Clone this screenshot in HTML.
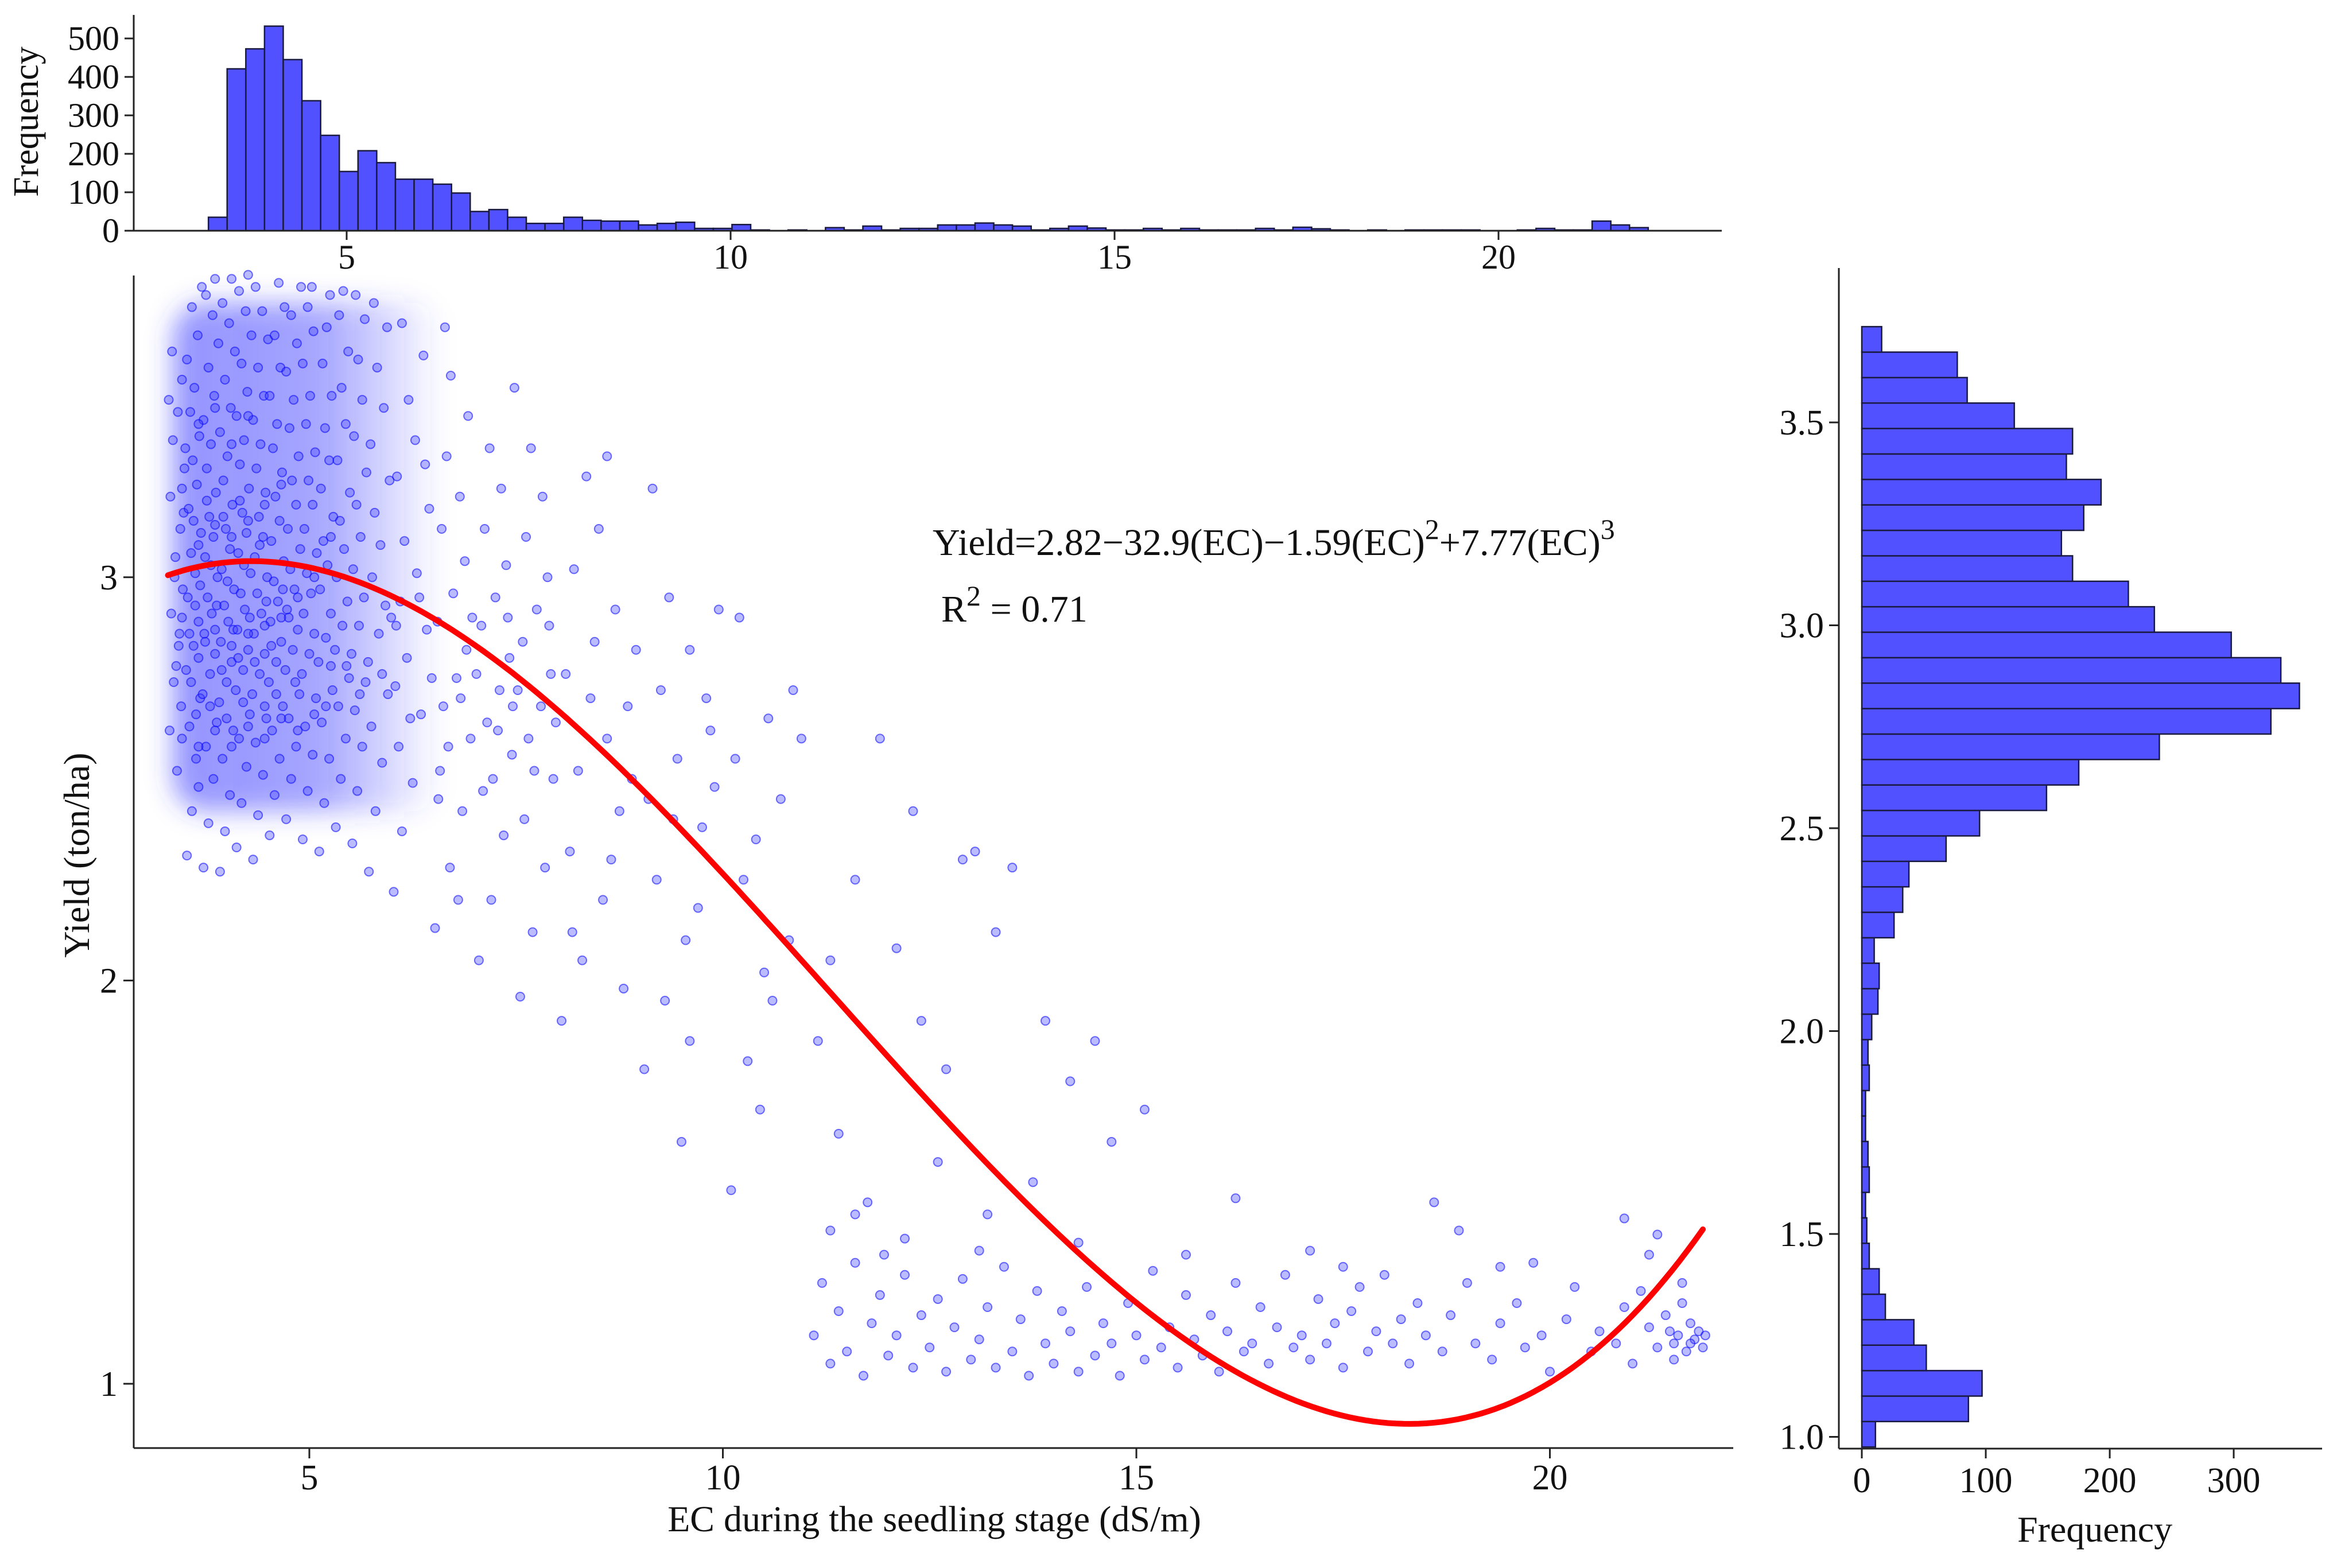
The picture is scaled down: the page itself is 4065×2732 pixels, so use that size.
<!DOCTYPE html>
<html><head><meta charset="utf-8"><style>
html,body{margin:0;padding:0;background:#fff;}
svg text{font-family:"Liberation Serif",serif;fill:#111;}
</style></head><body>
<svg id="chart" width="4065" height="2727" viewBox="0 0 4065 2727" xmlns="http://www.w3.org/2000/svg">
<defs>
<filter id="blur" x="-30%" y="-30%" width="160%" height="160%"><feGaussianBlur stdDeviation="22"/></filter>
<linearGradient id="dens" x1="0" y1="0" x2="1" y2="0">
<stop offset="0" stop-color="#3a3aff" stop-opacity="0.55"/>
<stop offset="0.55" stop-color="#3a3aff" stop-opacity="0.45"/>
<stop offset="1" stop-color="#3a3aff" stop-opacity="0"/>
</linearGradient>
</defs>
<g id="topHist"></g>
<g id="main"></g>
<g id="rightHist"></g>
<text x="1625" y="967" font-size="66">Yield=2.82−32.9(EC)−1.59(EC)<tspan dy="-28" font-size="50">2</tspan><tspan dy="28">+7.77(EC)</tspan><tspan dy="-28" font-size="50">3</tspan></text>
<text x="1640" y="1083" font-size="66">R<tspan dy="-28" font-size="50">2</tspan><tspan dy="28"> = 0.71</tspan></text>
</svg>
<script>
// ---- top histogram data (EC) ----
const topBinStart = 3.2;
const topBinWidth = 0.2435;
const topCounts = [35,421,473,532,445,338,248,154,208,177,134,134,121,98,50,55,35,19,19,35,27,25,25,15,19,22,6,6,16,2,
0,2,0,8,2,12,2,6,6,15,15,20,15,12,2,6,12,7,2,2,6,2,6,2,2,2,6,2,9,5,2,0,2,0,2,2,2,2,0,0,2,6,2,2,25,15,8];
const topXTicks = [5,10,15,20];
const topYTicks = [0,100,200,300,400,500];
// ---- right histogram data (Yield) ----
const rightBinStart = 0.975;
const rightBinWidth = 0.06275;
const rightCounts = [11,86,97,52,42,19,14,6,4,3,6,5,3,3,6,5,8,13,14,10,26,33,38,68,95,149,175,240,330,353,338,298,236,215,170,161,179,193,165,170,123,85,77,16];
const rightXTicks = [0,100,200,300];
const rightYTicks = [1.0,1.5,2.0,2.5,3.0,3.5];
// ---- main scatter ----
const mainXTicks = [5,10,15,20];
const mainYTicks = [1,2,3];
const curveRange = [3.29, 21.85];
const curveCoef = [2.3104, 0.36818, -0.05287, 0.0015596];
const scatterPts = [
[3.31,2.62],[3.36,2.74],[3.42,2.83],[3.33,2.91],[3.47,2.97],[3.38,3.05],[3.44,3.12],[3.32,3.2],[3.49,3.27],[3.35,3.34],[3.41,3.41],[3.46,3.49],[3.34,3.56],[3.4,2.52],[3.45,2.68],[3.37,3.0],[3.48,3.16],[3.43,2.86],[3.3,3.44],[3.39,2.78],
[3.52,2.31],[3.58,2.42],[3.63,2.55],[3.55,2.63],[3.68,2.7],[3.51,2.77],[3.6,2.83],[3.66,2.89],[3.53,2.95],[3.62,3.01],[3.57,3.06],[3.69,3.11],[3.54,3.17],[3.64,3.23],[3.59,3.29],[3.67,3.35],[3.56,3.41],[3.61,3.47],[3.52,3.54],[3.65,3.6],[3.58,3.67],[3.7,3.72],[3.63,2.66],[3.55,2.86],[3.68,2.98],[3.6,3.14],[3.5,3.32],[3.66,2.48],[3.57,2.74],[3.62,2.93],
[3.72,2.28],[3.78,2.39],[3.84,2.5],[3.75,2.58],[3.88,2.64],[3.71,2.71],[3.8,2.76],[3.86,2.81],[3.73,2.86],[3.82,2.91],[3.77,2.95],[3.89,3.0],[3.74,3.05],[3.84,3.1],[3.79,3.15],[3.87,3.21],[3.76,3.27],[3.81,3.33],[3.72,3.39],[3.85,3.45],[3.78,3.52],[3.9,3.58],[3.83,3.65],[3.75,3.7],[3.86,3.74],[3.8,2.68],[3.74,2.84],[3.88,2.93],[3.81,3.03],[3.76,3.19],
[3.92,2.27],[3.98,2.37],[4.04,2.46],[3.95,2.55],[4.08,2.62],[3.91,2.69],[4.0,2.74],[4.06,2.79],[3.93,2.84],[4.02,2.89],[3.97,2.93],[4.09,2.97],[3.94,3.02],[4.04,3.07],[3.99,3.12],[4.07,3.18],[3.96,3.24],[4.01,3.3],[3.92,3.36],[4.05,3.42],[3.98,3.49],[4.1,3.56],[4.03,3.63],[3.95,3.68],[4.06,3.74],[4.0,2.65],[3.94,2.77],[4.08,2.87],[4.01,2.99],[3.96,3.15],
[4.12,2.33],[4.18,2.44],[4.24,2.53],[4.15,2.6],[4.28,2.66],[4.11,2.72],[4.2,2.77],[4.26,2.82],[4.13,2.87],[4.22,2.92],[4.17,2.96],[4.29,3.01],[4.14,3.06],[4.24,3.11],[4.19,3.16],[4.27,3.22],[4.16,3.28],[4.21,3.34],[4.12,3.4],[4.25,3.46],[4.18,3.53],[4.3,3.6],[4.23,3.66],[4.15,3.71],[4.26,3.75],[4.2,2.69],[4.14,2.8],[4.28,2.9],[4.21,3.03],[4.16,3.19],
[4.32,2.3],[4.38,2.41],[4.44,2.51],[4.35,2.59],[4.48,2.65],[4.31,2.71],[4.4,2.76],[4.46,2.81],[4.33,2.86],[4.42,2.91],[4.37,2.96],[4.49,3.0],[4.34,3.05],[4.44,3.1],[4.39,3.15],[4.47,3.21],[4.36,3.27],[4.41,3.33],[4.32,3.39],[4.45,3.45],[4.38,3.52],[4.5,3.59],[4.43,3.66],[4.35,3.72],[4.46,2.68],[4.34,2.79],[4.48,2.94],[4.4,3.08],
[4.52,2.36],[4.58,2.46],[4.64,2.55],[4.55,2.62],[4.68,2.68],[4.51,2.74],[4.6,2.79],[4.66,2.84],[4.53,2.89],[4.62,2.94],[4.57,2.99],[4.69,3.04],[4.54,3.09],[4.64,3.14],[4.59,3.2],[4.67,3.26],[4.56,3.32],[4.61,3.38],[4.52,3.45],[4.65,3.52],[4.58,3.6],[4.7,3.67],[4.63,3.73],[4.6,2.71],[4.54,2.83],[4.68,2.97],
[4.72,2.4],[4.78,2.5],[4.84,2.58],[4.75,2.65],[4.88,2.71],[4.71,2.77],[4.8,2.82],[4.86,2.87],[4.73,2.92],[4.82,2.97],[4.77,3.02],[4.89,3.07],[4.74,3.12],[4.84,3.18],[4.79,3.24],[4.87,3.3],[4.76,3.37],[4.81,3.44],[4.72,3.51],[4.85,3.58],[4.78,3.65],[4.9,3.72],[4.83,2.74],[4.75,2.9],
[4.92,2.35],[4.98,2.47],[5.04,2.56],[4.95,2.63],[5.08,2.7],[4.91,2.76],[5.0,2.81],[5.06,2.86],[4.93,2.91],[5.02,2.96],[4.97,3.01],[5.09,3.06],[4.94,3.12],[5.04,3.18],[4.99,3.24],[5.07,3.31],[4.96,3.38],[5.01,3.45],[4.92,3.53],[5.05,3.61],[4.98,3.67],[5.03,3.72],
[5.12,2.32],[5.18,2.44],[5.24,2.55],[5.15,2.64],[5.28,2.72],[5.11,2.79],[5.2,2.85],[5.26,2.91],[5.13,2.97],[5.22,3.03],[5.17,3.09],[5.29,3.15],[5.14,3.22],[5.24,3.29],[5.19,3.37],[5.27,3.45],[5.16,3.53],[5.21,3.62],[5.25,3.7],[5.2,2.68],
[5.32,2.38],[5.38,2.5],[5.44,2.6],[5.35,2.68],[5.48,2.75],[5.31,2.82],[5.4,2.88],[5.46,2.94],[5.33,3.0],[5.42,3.07],[5.37,3.14],[5.49,3.21],[5.34,3.29],[5.44,3.38],[5.39,3.47],[5.47,3.56],[5.36,3.65],[5.41,3.71],[5.45,2.78],
[5.52,2.34],[5.58,2.47],[5.64,2.58],[5.55,2.67],[5.68,2.74],[5.51,2.81],[5.6,2.88],[5.66,2.95],[5.53,3.02],[5.62,3.1],[5.57,3.18],[5.69,3.26],[5.54,3.35],[5.64,3.44],[5.59,3.54],[5.67,3.64],[5.56,3.7],[5.61,2.71],
[5.72,2.27],[5.8,2.42],[5.88,2.54],[5.75,2.63],[5.95,2.71],[5.71,2.79],[5.84,2.86],[5.92,2.93],[5.76,3.0],[5.86,3.08],[5.79,3.16],[5.97,3.24],[5.74,3.33],[5.9,3.42],[5.82,3.52],[5.94,3.62],[5.78,3.68],[5.88,2.76],[5.99,2.9],
[6.02,2.22],[6.12,2.37],[6.25,2.49],[6.08,2.58],[6.35,2.66],[6.04,2.73],[6.18,2.8],[6.42,2.87],[6.1,2.94],[6.3,3.01],[6.15,3.09],[6.45,3.17],[6.06,3.25],[6.28,3.34],[6.2,3.44],[6.38,3.55],[6.12,3.63],[6.48,2.75],[6.22,2.65],[6.33,2.95],[6.05,2.88],[6.4,3.28],
[6.52,2.13],[6.7,2.28],[6.85,2.42],[6.58,2.52],[6.95,2.6],[6.62,2.68],[6.78,2.75],[6.9,2.82],[6.55,2.89],[6.74,2.96],[6.88,3.04],[6.6,3.12],[6.82,3.2],[6.66,3.3],[6.92,3.4],[6.71,3.5],[6.56,2.45],[6.97,2.9],[6.68,2.58],[6.83,2.7],[6.64,3.62],[6.8,2.2],
[7.05,2.05],[7.2,2.2],[7.35,2.36],[7.1,2.47],[7.45,2.56],[7.15,2.64],[7.3,2.72],[7.42,2.8],[7.08,2.88],[7.25,2.95],[7.38,3.03],[7.12,3.12],[7.32,3.22],[7.18,3.32],[7.48,3.47],[7.28,2.62],[7.4,2.9],[7.22,2.5],[7.02,2.76],[7.46,2.68],
[7.55,1.96],[7.7,2.12],[7.85,2.28],[7.6,2.4],[7.95,2.5],[7.65,2.6],[7.8,2.68],[7.92,2.76],[7.58,2.84],[7.75,2.92],[7.88,3.0],[7.62,3.1],[7.82,3.2],[7.68,3.32],[7.98,2.64],[7.72,2.52],[7.52,2.72],[7.9,2.88],
[8.05,1.9],[8.3,2.05],[8.55,2.2],[8.15,2.32],[8.75,2.42],[8.25,2.52],[8.6,2.6],[8.85,2.68],[8.1,2.76],[8.45,2.84],[8.7,2.92],[8.2,3.02],[8.5,3.12],[8.35,3.25],[8.9,2.5],[8.65,2.3],[8.4,2.7],[8.95,2.82],[8.18,2.12],[8.8,1.98],[8.6,3.3],
[9.05,1.78],[9.3,1.95],[9.55,2.1],[9.2,2.25],[9.75,2.38],[9.1,2.45],[9.45,2.55],[9.85,2.62],[9.25,2.72],[9.6,2.82],[9.35,2.95],[9.9,2.48],[9.7,2.18],[9.15,3.22],[9.5,1.6],[9.8,2.7],[9.4,2.4],[9.95,2.92],[9.6,1.85],
[10.1,1.48],[10.3,1.8],[10.5,2.02],[10.25,2.25],[10.7,2.45],[10.15,2.55],[10.55,2.65],[10.85,2.72],[10.4,2.35],[10.95,2.6],[10.6,1.95],[10.2,2.9],[10.8,2.1],[10.45,1.68],
[11.15,1.85],[11.3,2.05],[11.6,2.25],[11.9,2.6],[11.4,1.62],[12.1,2.08],[12.3,2.42],[11.75,1.45],[12.6,1.55],[12.9,2.3],[13.05,2.32],[12.4,1.9],[11.95,1.32],[13.3,2.12],[12.7,1.78],[13.5,2.28],[13.9,1.9],[14.2,1.75],[14.5,1.85],[15.1,1.68],[14.7,1.6],[13.75,1.5],[13.2,1.42],[16.2,1.46],[18.6,1.45],[18.9,1.38],[20.9,1.41],[21.3,1.37],[17.1,1.33],[19.4,1.29],
[11.1,1.12],[11.2,1.25],[11.3,1.05],[11.4,1.18],[11.5,1.08],[11.6,1.3],[11.7,1.02],[11.8,1.15],[11.9,1.22],[12.0,1.07],[12.1,1.12],[12.2,1.27],[12.3,1.04],[12.4,1.17],[12.5,1.09],[12.6,1.21],[12.7,1.03],[12.8,1.14],[12.9,1.26],[13.0,1.06],[13.1,1.11],[13.2,1.19],[13.3,1.04],[13.4,1.29],[13.5,1.08],[13.6,1.16],[13.7,1.02],[13.8,1.23],[13.9,1.1],[14.0,1.05],[14.1,1.18],[14.2,1.13],[14.3,1.03],[14.4,1.24],[14.5,1.07],[14.6,1.15],[14.7,1.1],[14.8,1.02],[14.9,1.2],[15.0,1.12],[15.1,1.06],[15.2,1.28],[15.3,1.09],[15.4,1.14],[15.5,1.04],[15.6,1.22],[15.7,1.11],[15.8,1.07],[15.9,1.17],[16.0,1.03],[16.1,1.13],[16.2,1.25],[16.3,1.08],[16.4,1.1],[16.5,1.19],[16.6,1.05],[16.7,1.14],[16.8,1.27],[16.9,1.09],[17.0,1.12],[17.1,1.06],[17.2,1.21],[17.3,1.1],[17.4,1.15],[17.5,1.04],[17.6,1.18],[17.7,1.24],[17.8,1.08],[17.9,1.13],[18.0,1.27],[18.1,1.1],[18.2,1.16],[18.3,1.05],[18.4,1.2],[18.5,1.12],[18.7,1.08],[18.8,1.17],[19.0,1.25],[19.1,1.1],[19.3,1.06],[19.4,1.15],[19.6,1.2],[19.7,1.09],[19.9,1.12],[20.0,1.03],[20.2,1.16],[20.3,1.24],[20.5,1.08],[20.6,1.13],[20.8,1.1],[20.9,1.19],[21.0,1.05],[21.1,1.23],[21.2,1.14],[21.3,1.09],[21.4,1.17],[21.5,1.1],[21.55,1.12],[21.6,1.2],[21.65,1.08],[21.7,1.15],[21.75,1.11],[21.8,1.13],[21.85,1.09],[21.88,1.12],[21.5,1.06],[21.6,1.25],[21.7,1.1],[21.45,1.13],[11.3,1.38],[11.6,1.42],[12.2,1.36],[13.1,1.33],[14.3,1.35],[15.6,1.32],[17.5,1.29],[19.8,1.3],[21.2,1.32],
[3.46,2.6],[3.46,2.9],[3.46,3.22],[3.66,2.58],[3.66,2.8],[3.66,3.08],[3.66,3.38],[3.86,2.62],[3.86,2.87],[3.86,3.13],[3.86,3.42],[4.06,2.58],[4.06,2.83],[4.06,3.1],[4.06,3.33],[4.26,2.63],[4.26,2.86],[4.26,3.14],[4.26,3.4],[4.46,2.6],[4.46,2.88],[4.46,3.18],[4.66,2.65],[4.66,2.9],[4.66,3.23],[4.86,2.62],[4.86,2.95],[5.06,2.66],[5.06,3.0],[5.26,2.78],[5.26,3.1]
];
const NS='http://www.w3.org/2000/svg';
function mk(tag, parent, attrs){const e=document.createElementNS(NS,tag);for(const k in attrs)e.setAttribute(k,attrs[k]);parent.appendChild(e);return e;}
function txt(parent,x,y,s,size,anchor){const t=mk('text',parent,{x:x,y:y,'font-size':size,'text-anchor':anchor||'middle'});t.textContent=s;return t;}

// ===== Top histogram =====
const tx = v => 604 + (v-5)*133.8;
const ty = c => 402 - c*0.67;
const topG=document.getElementById('topHist');
topCounts.forEach((c,i)=>{
  const x0=tx(topBinStart+i*topBinWidth), x1=tx(topBinStart+(i+1)*topBinWidth);
  const r=mk('rect',topG,{x:x0,y:ty(c),width:x1-x0,height:402-ty(c),fill:'#5151ff',stroke:'#1a1a40','stroke-width':2.5});
  
  
});
let l=mk('line',topG,{x1:233,y1:402,x2:3000,y2:402,stroke:'#222','stroke-width':3});


l=mk('line',topG,{x1:233,y1:26,x2:233,y2:402,stroke:'#222','stroke-width':3});


topXTicks.forEach(v=>{mk('line',topG,{x1:tx(v),y1:402,x2:tx(v),y2:418,stroke:'#222','stroke-width':3});
  const t=txt(topG,tx(v),468,String(v),60);
  
  });
topYTicks.forEach(v=>{mk('line',topG,{x1:217,y1:ty(v),x2:233,y2:ty(v),stroke:'#222','stroke-width':3});
  const t=txt(topG,208,ty(v)+20,String(v),60,'end');
  
  });
let tt=txt(topG,0,0,'Frequency',62);
tt.setAttribute('transform','translate(66,212) rotate(-90)');



// ===== Main scatter =====
const mx = v => 539 + (v-5)*144.1;
const my = v => 2411 - (v-1)*702.6;
const mainG=document.getElementById('main');
let u=mk('rect',mainG,{x:mx(3.35),y:my(3.68),width:mx(6.6)-mx(3.35),height:my(2.42)-my(3.68),rx:60,fill:'url(#dens)',filter:'url(#blur)'});


scatterPts.forEach(p=>{
  const c=mk('circle',mainG,{cx:mx(p[0]),cy:my(p[1]),r:7.5,fill:'rgba(60,60,255,0.35)',stroke:'rgba(0,0,255,0.55)','stroke-width':2});
  
  
});
const poly = x => curveCoef[0]+curveCoef[1]*x+curveCoef[2]*x*x+curveCoef[3]*x*x*x;
let d='';
for(let i=0;i<=200;i++){const x=curveRange[0]+(curveRange[1]-curveRange[0])*i/200;d+=(i?' L':'M')+mx(x).toFixed(1)+','+my(poly(x)).toFixed(1);}
const cv=mk('path',mainG,{d:d,fill:'none',stroke:'#ff0000','stroke-width':10,'stroke-linecap':'round','stroke-linejoin':'round'});


l=mk('line',mainG,{x1:233,y1:2523,x2:3020,y2:2523,stroke:'#222','stroke-width':3});


l=mk('line',mainG,{x1:233,y1:480,x2:233,y2:2523,stroke:'#222','stroke-width':3});


mainXTicks.forEach(v=>{mk('line',mainG,{x1:mx(v),y1:2523,x2:mx(v),y2:2541,stroke:'#222','stroke-width':3});
  const t=txt(mainG,mx(v),2595,String(v),62);
  
  });
mainYTicks.forEach(v=>{mk('line',mainG,{x1:215,y1:my(v),x2:233,y2:my(v),stroke:'#222','stroke-width':3});
  const t=txt(mainG,205,my(v)+21,String(v),62,'end');
  
  });
tt=txt(mainG,1628,2668,'EC during the seedling stage (dS/m)',64);


tt=txt(mainG,0,0,'Yield (ton/ha)',64);
tt.setAttribute('transform','translate(155,1490) rotate(-90)');



// ===== Right histogram =====
const rx = c => 3244 + c*2.16;
const ry = v => 736 - (v-3.5)*707;
const rG=document.getElementById('rightHist');
rightCounts.forEach((c,i)=>{
  const y0=ry(rightBinStart+(i+1)*rightBinWidth), y1=ry(rightBinStart+i*rightBinWidth);
  const r=mk('rect',rG,{x:rx(0),y:y0,width:rx(c)-rx(0),height:y1-y0,fill:'#5151ff',stroke:'#1a1a40','stroke-width':2.5});
  
  
});
l=mk('line',rG,{x1:3204,y1:2524,x2:4046,y2:2524,stroke:'#222','stroke-width':3});


l=mk('line',rG,{x1:3204,y1:467,x2:3204,y2:2524,stroke:'#222','stroke-width':3});


rightXTicks.forEach(v=>{mk('line',rG,{x1:rx(v),y1:2524,x2:rx(v),y2:2541,stroke:'#222','stroke-width':3});
  const t=txt(rG,rx(v),2600,String(v),62);
  
  });
rightYTicks.forEach(v=>{mk('line',rG,{x1:3187,y1:ry(v),x2:3204,y2:ry(v),stroke:'#222','stroke-width':3});
  const t=txt(rG,3178,ry(v)+21,v.toFixed(1),62,'end');
  
  });
tt=txt(rG,3650,2686,'Frequency',64);


</script>
</body></html>
